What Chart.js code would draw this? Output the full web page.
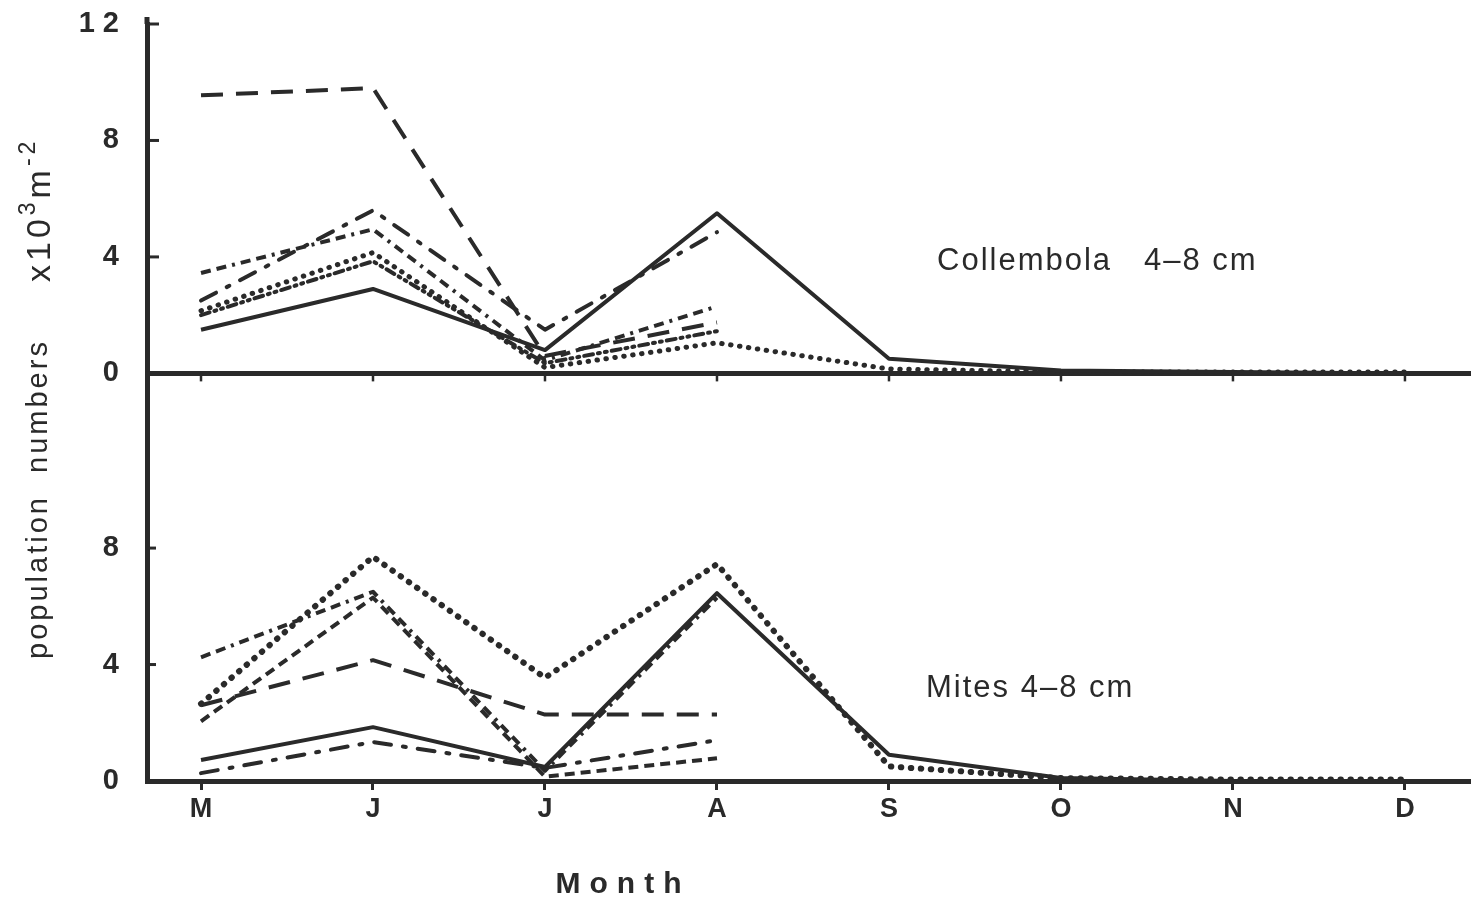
<!DOCTYPE html>
<html>
<head>
<meta charset="utf-8">
<script src="https://cdn.jsdelivr.net/npm/chart.js@4/dist/chart.umd.min.js"></script>
<style>
  html, body { margin: 0; padding: 0; background: #fff; }
  #wrap { position: relative; width: 1471px; height: 901px; }
  canvas { display: block; }
</style>
</head>
<body>
<div id="wrap"><canvas id="c" width="1471" height="901"></canvas></div>
<script>
const INK = '#2a2a2a';

// Months sampled (May to December)
const months = ['M', 'J', 'J', 'A', 'S', 'O', 'N', 'D'];

// Axis ticks
const topTickValues = [0, 4, 8, 12];
const topTickLabels = ['0', '4', '8', '1 2'];
const botTickValues = [0, 4, 8];
const botTickLabels = ['0', '4', '8'];

// Collembola 4-8 cm, x10^3 m^-2
const colSolid     = [1.5, 2.9, 0.8, 5.5, 0.5, 0.1, 0.05, 0.0];
const colDotted    = [2.15, 4.15, 0.2, 1.05, 0.15, 0.05, 0.05, 0.05];
const colLongDash  = [9.55, 9.8, 0.6, 1.75];
const colShortDash = [3.45, 4.95, 0.45, 2.3];
const colDashDot   = [2.5, 5.6, 1.5, 4.85];
const colDotDash   = [2.0, 3.85, 0.35, 1.45];

// Mites 4-8 cm, x10^3 m^-2
const miteSolid     = [0.72, 1.85, 0.48, 6.45, 0.9, 0.1, 0.0, 0.0];
const miteDotted    = [2.65, 7.7, 3.55, 7.45, 0.5, 0.1, 0.05, 0.05];
const miteLongDash  = [2.6, 4.15, 2.28, 2.28];
const miteDashDot   = [0.27, 1.34, 0.45, 1.4];
const miteShortDash = [4.25, 6.5, 0.35, 6.3];
const miteDash      = [2.05, 6.3, 0.15, 0.78];

// Panel labels
const topPanelLabel = 'Collembola   4\u20138 cm';
const botPanelLabel = 'Mites 4\u20138 cm';

const STYLE = {
  solid:     { dash: [], width: 4, cap: 'butt' },
  dotted:    { dash: [0.5, 8.5], width: 5, cap: 'round' },
  bigDots:   { dash: [0.5, 9.5], width: 6, cap: 'round' },
  longDash:  { dash: [22, 13], width: 4, cap: 'butt' },
  shortDash: { dash: [10, 6, 10, 6, 3, 6], width: 4, cap: 'butt' },
  dashDot:   { dash: [17, 12, 3, 12], width: 4, cap: 'round' },
  dotDash:   { dash: [9, 5, 2, 5, 2, 5], width: 4, cap: 'round' },
  dash:      { dash: [10, 6], width: 4, cap: 'butt' }
};

function series(label, values, axis, styleName) {
  const s = STYLE[styleName];
  return {
    label,
    data: values.map((v, i) => ({ x: i, y: v })),
    yAxisID: axis,
    xAxisID: 'x',
    borderColor: INK,
    borderWidth: s.width,
    borderDash: s.dash,
    borderCapStyle: s.cap,
    borderJoinStyle: 'round',
    pointRadius: 0,
    tension: 0,
    fill: false,
    clip: 8
  };
}

const datasets = [
  series('Collembola a', colSolid, 'yTop', 'solid'),
  series('Collembola b', colDotted, 'yTop', 'dotted'),
  series('Collembola c', colLongDash, 'yTop', 'longDash'),
  series('Collembola d', colShortDash, 'yTop', 'shortDash'),
  series('Collembola e', colDashDot, 'yTop', 'dashDot'),
  series('Collembola f', colDotDash, 'yTop', 'dotDash'),
  series('Mites a', miteSolid, 'yBot', 'solid'),
  series('Mites b', miteDotted, 'yBot', 'bigDots'),
  series('Mites c', miteLongDash, 'yBot', 'longDash'),
  series('Mites d', miteDashDot, 'yBot', 'dashDot'),
  series('Mites e', miteShortDash, 'yBot', 'shortDash'),
  series('Mites f', miteDash, 'yBot', 'dash')
];

const tickFont = { family: "'Liberation Sans', Arial, sans-serif", size: 29, weight: 'bold' };

function fitValueAxis(s) {
  s.width = 147;
  s.paddingTop = 0;
  s.paddingBottom = 0;
}

// Inner tick marks, top-panel month ticks and free text
const decorations = {
  id: 'decorations',
  afterDraw(chart) {
    const { ctx, scales } = chart;
    const x = scales.x, yTop = scales.yTop, yBot = scales.yBot;
    const axisX = chart.chartArea.left;
    ctx.save();
    ctx.strokeStyle = INK;
    ctx.fillStyle = INK;

    // axis stub above the top tick
    ctx.lineWidth = 5;
    ctx.beginPath();
    ctx.moveTo(axisX, yTop.getPixelForValue(12) - 7);
    ctx.lineTo(axisX, yTop.getPixelForValue(12));
    ctx.stroke();

    // inward tick marks on the value axis
    ctx.lineWidth = 3;
    topTickValues.forEach(v => {
      const py = yTop.getPixelForValue(v);
      ctx.beginPath(); ctx.moveTo(axisX, py); ctx.lineTo(axisX + 12, py); ctx.stroke();
    });
    botTickValues.forEach(v => {
      const py = yBot.getPixelForValue(v);
      ctx.beginPath(); ctx.moveTo(axisX, py); ctx.lineTo(axisX + 9, py); ctx.stroke();
    });

    // month ticks under the upper panel's base line
    const base = yTop.getPixelForValue(0);
    ctx.lineWidth = 2.5;
    months.forEach((m, i) => {
      const px = x.getPixelForValue(i);
      ctx.beginPath(); ctx.moveTo(px, base); ctx.lineTo(px, base + 8); ctx.stroke();
    });

    // panel labels
    ctx.font = "31px 'Liberation Sans', Arial, sans-serif";
    ctx.letterSpacing = '2px';
    ctx.textAlign = 'left';
    ctx.textBaseline = 'alphabetic';
    ctx.fillText(topPanelLabel, 937, 270);
    ctx.fillText(botPanelLabel, 926, 697);

    // x-axis title
    ctx.font = "bold 30px 'Liberation Sans', Arial, sans-serif";
    ctx.letterSpacing = '9px';
    ctx.textAlign = 'center';
    ctx.fillText('Month', 623, 893);

    // y-axis title (rotated)
    ctx.save();
    ctx.translate(47, 499);
    ctx.rotate(-Math.PI / 2);
    ctx.font = "29px 'Liberation Sans', Arial, sans-serif";
    ctx.letterSpacing = '3px';
    ctx.textAlign = 'center';
    ctx.fillText('population  numbers', 0, 0);
    ctx.restore();

    // unit label with superscripts, rotated
    ctx.save();
    ctx.translate(50, 282);
    ctx.rotate(-Math.PI / 2);
    ctx.textAlign = 'left';
    ctx.letterSpacing = '4px';
    const parts = [
      { t: 'x10', size: 34, rise: 0 },
      { t: '3', size: 23, rise: 15 },
      { t: 'm', size: 34, rise: 0 },
      { t: '-2', size: 23, rise: 15 }
    ];
    let cx = 0;
    parts.forEach(p => {
      ctx.font = p.size + "px 'Liberation Sans', Arial, sans-serif";
      ctx.fillText(p.t, cx, -p.rise);
      cx += ctx.measureText(p.t).width;
    });
    ctx.restore();

    ctx.restore();
  }
};

new Chart(document.getElementById('c'), {
  type: 'line',
  data: { datasets },
  plugins: [decorations],
  options: {
    responsive: false,
    animation: false,
    events: [],
    layout: { padding: { top: 24, left: 0, right: 0, bottom: 0 } },
    plugins: { legend: { display: false }, tooltip: { enabled: false }, title: { display: false } },
    scales: {
      x: {
        type: 'linear',
        position: 'bottom',
        min: -0.314,
        max: 7.384,
        afterBuildTicks: s => { s.ticks = months.map((m, i) => ({ value: i })); },
        afterFit: s => { s.height = 120; s.paddingLeft = 0; s.paddingRight = 0; },
        ticks: {
          autoSkip: false,
          maxRotation: 0,
          padding: 3,
          color: INK,
          font: { family: "'Liberation Sans', Arial, sans-serif", size: 27, weight: 'bold' },
          callback: (v, i) => months[i]
        },
        grid: { display: true, drawOnChartArea: false, drawTicks: true, tickLength: 9, tickWidth: 3, color: INK },
        border: { display: true, width: 5, color: INK }
      },
      yBot: {
        type: 'linear',
        position: 'left',
        stack: 'panels',
        stackWeight: 14,
        weight: 0,
        min: 0,
        max: 14,
        afterBuildTicks: s => { s.ticks = botTickValues.map(v => ({ value: v })); },
        afterFit: fitValueAxis,
        ticks: {
          padding: 28,
          color: INK,
          font: tickFont,
          callback: (v, i) => botTickLabels[i]
        },
        grid: { display: false, drawTicks: false },
        border: { display: true, width: 5, color: INK }
      },
      yTop: {
        type: 'linear',
        position: 'left',
        stack: 'panels',
        stackWeight: 12,
        weight: 1,
        min: 0,
        max: 12,
        afterBuildTicks: s => { s.ticks = topTickValues.map(v => ({ value: v })); },
        afterFit: fitValueAxis,
        ticks: {
          padding: 28,
          color: INK,
          font: tickFont,
          callback: (v, i) => topTickLabels[i]
        },
        grid: {
          display: true,
          drawOnChartArea: true,
          drawTicks: false,
          lineWidth: 5,
          color: c => (c.tick && c.tick.value === 0) ? INK : 'rgba(0,0,0,0)'
        },
        border: { display: true, width: 5, color: INK }
      }
    }
  }
});
</script>
</body>
</html>
